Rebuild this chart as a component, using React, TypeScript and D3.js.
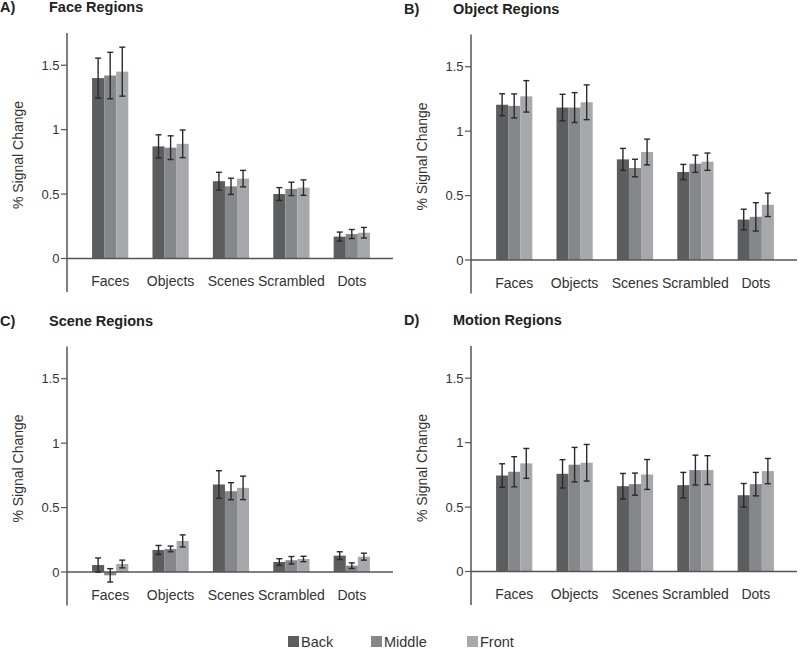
import React from "react";
import * as d3 from "d3";

const categories = ["Faces", "Objects", "Scenes", "Scrambled", "Dots"];
const seriesNames = ["Back", "Middle", "Front"];
const seriesColors = ["#5c5d5f", "#86878a", "#a7a8ab"];
const yTicks = [0, 0.5, 1, 1.5];
const yTickLabels = ["0", "0.5", "1", "1.5"];

// Panel A: Face Regions
const faceMean = [
  [1.40, 1.42, 1.45],
  [0.87, 0.86, 0.89],
  [0.60, 0.56, 0.62],
  [0.50, 0.54, 0.55],
  [0.17, 0.19, 0.20],
];
const faceErr = [
  [0.155, 0.18, 0.19],
  [0.09, 0.092, 0.107],
  [0.069, 0.063, 0.064],
  [0.05, 0.052, 0.06],
  [0.035, 0.035, 0.041],
];

// Panel B: Object Regions
const objectMean = [
  [1.205, 1.196, 1.27],
  [1.183, 1.183, 1.224],
  [0.781, 0.714, 0.838],
  [0.683, 0.747, 0.763],
  [0.314, 0.335, 0.428],
];
const objectErr = [
  [0.085, 0.093, 0.122],
  [0.103, 0.116, 0.135],
  [0.085, 0.068, 0.1],
  [0.059, 0.067, 0.067],
  [0.08, 0.11, 0.091],
];

// Panel C: Scene Regions
const sceneMean = [
  [0.054, -0.026, 0.062],
  [0.171, 0.179, 0.241],
  [0.679, 0.627, 0.653],
  [0.078, 0.091, 0.101],
  [0.127, 0.049, 0.119],
];
const sceneErr = [
  [0.055, 0.052, 0.03],
  [0.035, 0.022, 0.047],
  [0.107, 0.066, 0.091],
  [0.025, 0.029, 0.021],
  [0.03, 0.022, 0.027],
];

// Panel D: Motion Regions
const motionMean = [
  [0.745, 0.774, 0.839],
  [0.758, 0.829, 0.844],
  [0.662, 0.678, 0.753],
  [0.670, 0.787, 0.787],
  [0.592, 0.678, 0.779],
];
const motionErr = [
  [0.091, 0.117, 0.116],
  [0.11, 0.134, 0.142],
  [0.099, 0.086, 0.116],
  [0.099, 0.116, 0.112],
  [0.091, 0.091, 0.098],
];

const panels = [
  { letter: "A)", title: "Face Regions", mean: faceMean, err: faceErr, dx: 0, dy: 0 },
  { letter: "B)", title: "Object Regions", mean: objectMean, err: objectErr, dx: 404, dy: 1.5 },
  { letter: "C)", title: "Scene Regions", mean: sceneMean, err: sceneErr, dx: 0, dy: 313.5 },
  { letter: "D)", title: "Motion Regions", mean: motionMean, err: motionErr, dx: 404, dy: 313 },
];

const FONT = "'Liberation Sans', Arial, Helvetica, sans-serif";

function Panel({ p }: { p: (typeof panels)[number] }) {
  const axisX = 67;
  const y = d3.scaleLinear().domain([-0.26, 1.75]).range([292, 33]);
  const x = d3.scaleBand().domain(categories).range([80, 382]).paddingInner(0.4).paddingOuter(0.2);
  const inner = d3.scaleBand().domain(seriesNames).range([0, x.bandwidth()]);
  const bw = inner.bandwidth();
  const y0 = y(0);
  return (
    <g transform={`translate(${p.dx},${p.dy})`}>
      <text x={0} y={12} fontFamily={FONT} fontWeight="bold" fontSize={14.5} fill="#222">
        {p.letter}
      </text>
      <text x={49} y={12} fontFamily={FONT} fontWeight="bold" fontSize={14.5} fill="#222">
        {p.title}
      </text>
      {categories.map((c, ci) =>
        seriesNames.map((s, si) => {
          const v = p.mean[ci][si];
          const bx = (x(c) as number) + (inner(s) as number);
          return (
            <rect
              key={c + s}
              x={bx}
              y={Math.min(y(v), y0)}
              width={bw}
              height={Math.abs(y(v) - y0)}
              fill={seriesColors[si]}
            />
          );
        })
      )}
      <line x1={axisX} x2={axisX + 326} y1={y0} y2={y0} stroke="#555" strokeWidth={1.5} />
      {categories.map((c, ci) =>
        seriesNames.map((s, si) => {
          const v = p.mean[ci][si];
          const e = p.err[ci][si];
          const cx = (x(c) as number) + (inner(s) as number) + bw / 2;
          const yt = y(v + e);
          const yb = y(v - e);
          return (
            <g key={"e" + c + s} stroke="#2a2a2a" strokeWidth={1.4}>
              <line x1={cx} x2={cx} y1={yt} y2={yb} />
              <line x1={cx - 3} x2={cx + 3} y1={yt} y2={yt} />
              <line x1={cx - 3} x2={cx + 3} y1={yb} y2={yb} />
            </g>
          );
        })
      )}
      <line x1={axisX} x2={axisX} y1={y(1.75)} y2={y(-0.26)} stroke="#555" strokeWidth={1.5} />
      {yTicks.map((t, i) => (
        <g key={t}>
          <line x1={axisX - 6} x2={axisX} y1={y(t)} y2={y(t)} stroke="#555" strokeWidth={1.2} />
          <text
            x={axisX - 7.5}
            y={y(t)}
            dy="0.36em"
            textAnchor="end"
            fontFamily={FONT}
            fontSize={13}
            fill="#333"
          >
            {yTickLabels[i]}
          </text>
        </g>
      ))}
      {categories.map((c) => (
        <text
          key={"l" + c}
          x={(x(c) as number) + x.bandwidth() / 2}
          y={286}
          textAnchor="middle"
          fontFamily={FONT}
          fontSize={14}
          fill="#333"
        >
          {c}
        </text>
      ))}
      <text
        transform={`translate(23,155) rotate(-90)`}
        textAnchor="middle"
        fontFamily={FONT}
        fontSize={14}
        fill="#333"
      >
        % Signal Change
      </text>
    </g>
  );
}

const legendX = [288, 371, 467];

export default function App() {
  return (
    <svg
      width={800}
      height={649}
      style={{ position: "absolute", left: 0, top: 0, background: "#fff" }}
    >
      <rect width={800} height={649} fill="#fff" />
      {panels.map((p) => (
        <Panel key={p.letter} p={p} />
      ))}
      {seriesNames.map((s, i) => (
        <g key={s}>
          <rect x={legendX[i]} y={636} width={11} height={11} fill={seriesColors[i]} />
          <text x={legendX[i] + 13} y={647} fontFamily={FONT} fontSize={14.5} fill="#333">
            {s}
          </text>
        </g>
      ))}
    </svg>
  );
}
